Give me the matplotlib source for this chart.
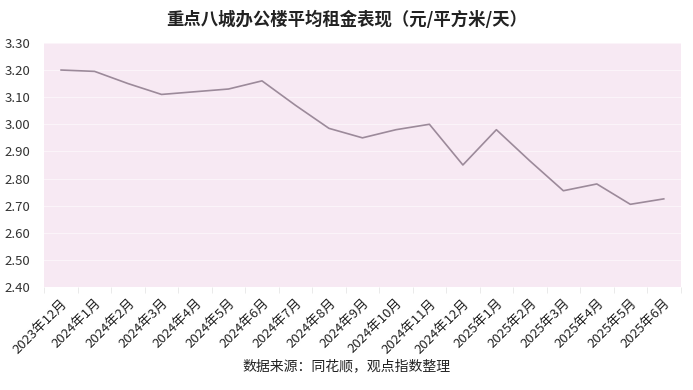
import matplotlib
matplotlib.use("Agg")
import matplotlib.pyplot as plt

plt.rcParams['font.family'] = ['Noto Sans CJK SC', 'DejaVu Sans']

months = ['2023年12月', '2024年1月', '2024年2月', '2024年3月', '2024年4月',
          '2024年5月', '2024年6月', '2024年7月', '2024年8月', '2024年9月',
          '2024年10月', '2024年11月', '2024年12月', '2025年1月', '2025年2月',
          '2025年3月', '2025年4月', '2025年5月', '2025年6月']
rent = [3.20, 3.195, 3.15, 3.11, 3.12, 3.13, 3.16, 3.07, 2.985, 2.95,
        2.98, 3.00, 2.85, 2.98, 2.865, 2.755, 2.78, 2.705, 2.725]
yticks = [2.40, 2.50, 2.60, 2.70, 2.80, 2.90, 3.00, 3.10, 3.20, 3.30]

fig = plt.figure(figsize=(6.93, 3.9), dpi=100)
ax = fig.add_axes([0.064, 0.264, 0.918, 0.626])

x = range(len(months))
ax.plot(x, rent, color='#9c8a9a', linewidth=1.2)

ax.set_facecolor('#f7e9f3')
ax.set_xlim(-0.5, len(months) - 0.5)
ax.set_ylim(2.40, 3.30)
ax.set_yticks(yticks)
ax.set_yticklabels([f'{v:.2f}' for v in yticks], fontsize=9.5, color='#333333')
ax.yaxis.grid(True, color='#fbf4f9', linewidth=0.8)
ax.set_axisbelow(True)

ax.set_xticks([i - 0.5 for i in x] + [len(months) - 0.5], minor=True)
ax.set_xticks(list(x))
ax.set_xticklabels(months, rotation=45, ha='right', rotation_mode='anchor',
                   fontsize=9.5, color='#222222')
ax.tick_params(axis='x', which='major', length=0, pad=7)
ax.tick_params(axis='x', which='minor', length=4, color='#e6e6e6')
ax.tick_params(axis='y', length=0, pad=10)

for s in ax.spines.values():
    s.set_visible(False)

fig.text(0.5, 0.948, '重点八城办公楼平均租金表现（元/平方米/天）',
         ha='center', va='center', fontsize=12.5, fontweight='bold', color='#222222')
fig.text(0.5, 0.062, '数据来源：同花顺，观点指数整理',
         ha='center', va='center', fontsize=10, color='#222222')

fig.savefig('out.png', dpi=100, facecolor='white')
